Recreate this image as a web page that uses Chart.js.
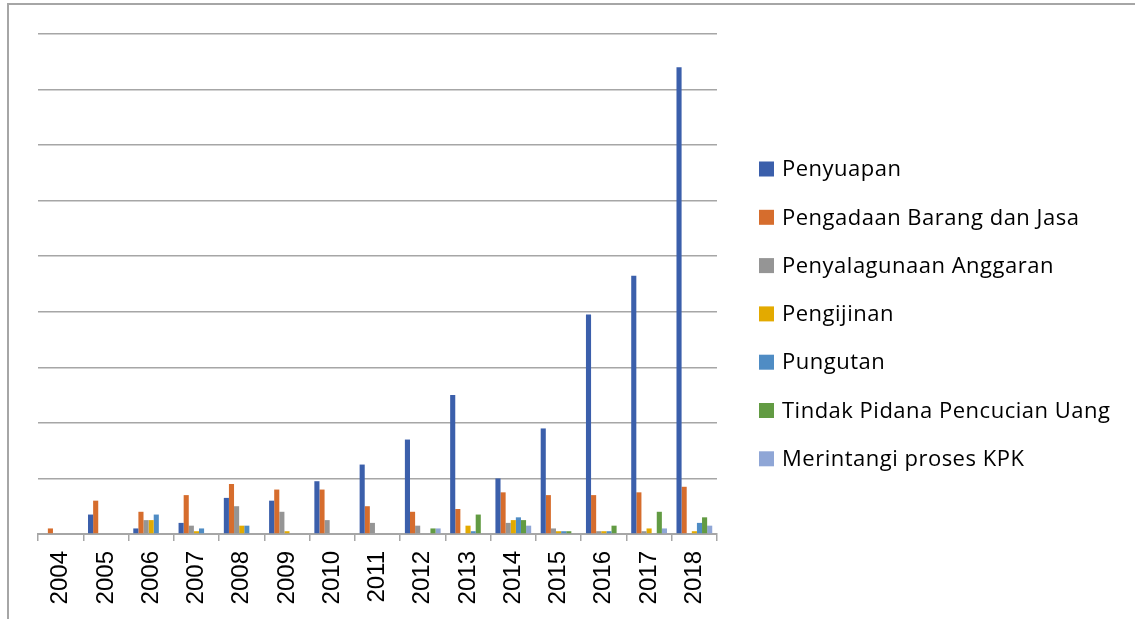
<!DOCTYPE html>
<html>
<head>
<meta charset="utf-8">
<script src="https://cdn.jsdelivr.net/npm/chart.js@4.4.1/dist/chart.umd.min.js"></script>
<style>
  html, body { margin: 0; padding: 0; background: #ffffff; }
  #wrap { position: relative; width: 1135px; height: 619px; overflow: hidden; }
  #frame { position: absolute; left: 7px; top: 3px; right: -10px; bottom: -10px;
           border-left: 2px solid #a6a6a6; border-top: 2px solid #a6a6a6; pointer-events: none; }
  canvas { position: absolute; left: 0; top: 0; }
</style>
</head>
<body>
<div id="wrap">
  <canvas id="chart" width="1135" height="619"></canvas>
  <div id="frame"></div>
</div>
<script>
// Jumlah perkara korupsi KPK per jenis perkara, 2004–2018
const years = ['2004','2005','2006','2007','2008','2009','2010','2011','2012','2013','2014','2015','2016','2017','2018'];
const penyuapan      = [0, 7, 2, 4, 13, 12, 19, 25, 34, 50, 20, 38, 79, 93, 168];
const pengadaan      = [2, 12, 8, 14, 18, 16, 16, 10, 8, 9, 15, 14, 14, 15, 17];
const penyalagunaan  = [0, 0, 5, 3, 10, 8, 5, 4, 3, 0, 4, 2, 1, 1, 0];
const pengijinan     = [0, 0, 5, 1, 3, 1, 0, 0, 0, 3, 5, 1, 1, 2, 1];
const pungutan       = [0, 0, 7, 2, 3, 0, 0, 0, 0, 1, 6, 1, 1, 0, 4];
const tppu           = [0, 0, 0, 0, 0, 0, 0, 0, 2, 7, 5, 1, 3, 8, 6];
const merintangi     = [0, 0, 0, 0, 0, 0, 0, 0, 2, 0, 3, 0, 0, 2, 3];

const seriesLabels = ['Penyuapan', 'Pengadaan Barang dan Jasa', 'Penyalagunaan Anggaran',
  'Pengijinan', 'Pungutan', 'Tindak Pidana Pencucian Uang', 'Merintangi proses KPK'];
const seriesColors = ['#3b5fab', '#d66d2d', '#959595', '#e3aa00', '#4f8cc4', '#629b43', '#8fa6d6'];
const seriesValues = [penyuapan, pengadaan, penyalagunaan, pengijinan, pungutan, tppu, merintangi];

const axisGray = '#a6a6a6';

// Legend drawn on the right, one row per series
const sideLegend = {
  id: 'sideLegend',
  afterDraw(chart) {
    const ctx = chart.ctx;
    const x0 = 759, y0 = 169, rowH = 48.3, box = 15;
    ctx.save();
    ctx.font = '22px "Open Sans", sans-serif';
    if ('letterSpacing' in ctx) ctx.letterSpacing = '0.5px';
    ctx.textBaseline = 'middle';
    ctx.textAlign = 'left';
    chart.data.datasets.forEach((ds, i) => {
      const y = y0 + i * rowH;
      ctx.fillStyle = ds.backgroundColor;
      ctx.fillRect(x0, y - box / 2, box, box);
      ctx.fillStyle = '#000000';
      ctx.fillText(ds.label, x0 + 23, y + 1);
    });
    ctx.restore();
  }
};

new Chart(document.getElementById('chart'), {
  type: 'bar',
  data: {
    labels: years,
    datasets: seriesLabels.map((label, i) => ({
      label,
      data: seriesValues[i],
      backgroundColor: seriesColors[i],
      borderWidth: 0,
      categoryPercentage: 0.79,
      barPercentage: 1.0
    }))
  },
  options: {
    responsive: false,
    animation: false,
    devicePixelRatio: 1,
    layout: { padding: { left: 38, right: 418, top: 34, bottom: 0 } },
    plugins: {
      legend: { display: false },
      tooltip: { enabled: false }
    },
    scales: {
      x: {
        afterFit(scale) { scale.height = 85; },
        grid: { drawOnChartArea: false, drawTicks: true, tickLength: 7, color: axisGray, lineWidth: 1.5 },
        border: { display: true, color: axisGray, width: 2 },
        ticks: {
          minRotation: 90, maxRotation: 90, autoSkip: false, padding: 10,
          color: '#000000',
          font: { family: '"Liberation Sans", Arial, sans-serif', size: 24 }
        }
      },
      y: {
        min: 0, max: 180,
        afterFit(scale) { scale.width = 0; },
        grid: { color: axisGray, lineWidth: 1.5, drawTicks: false },
        border: { display: false },
        ticks: { display: false, stepSize: 20 }
      }
    }
  },
  plugins: [sideLegend]
});
</script>
</body>
</html>
